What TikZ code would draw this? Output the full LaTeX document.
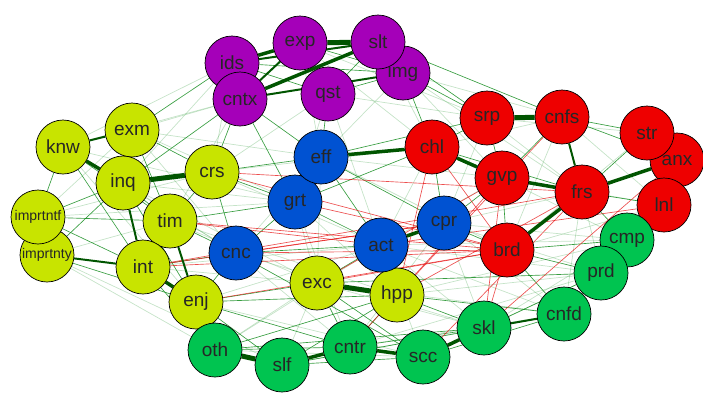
\documentclass[tikz,border=0pt]{standalone}
\usepackage{fontspec}
\setmainfont{Liberation Sans}
\usetikzlibrary{backgrounds}
\definecolor{purpv}{RGB}{165,0,185}
\definecolor{redv}{RGB}{238,0,0}
\definecolor{bluev}{RGB}{0,82,210}
\definecolor{yelv}{RGB}{200,228,0}
\definecolor{grnv}{RGB}{0,196,80}
\definecolor{dkgrn}{RGB}{0,85,0}
\definecolor{mdgrn}{RGB}{20,140,30}
\definecolor{negred}{RGB}{230,20,20}
\tikzset{
  vtx/.style={circle,draw=black,line width=0.7pt,minimum size=54pt,inner sep=0pt,
    font=\fontsize{19}{19}\selectfont,text=black!85},
  smalltxt/.style={font=\fontsize{14}{14}\selectfont},
  cue/.style={vtx,fill=purpv},
  emo/.style={vtx,fill=redv},
  eng/.style={vtx,fill=bluev},
  mot/.style={vtx,fill=yelv},
  soc/.style={vtx,fill=grnv},
  heavy/.style={draw=dkgrn,line width=5pt},
  strong/.style={draw=dkgrn,line width=3.5pt},
  mid/.style={draw=dkgrn,line width=2pt},
  weak/.style={draw=mdgrn,line width=0.65pt,opacity=0.85},
  faint/.style={draw=mdgrn!70,line width=0.7pt,opacity=0.35},
  neg/.style={draw=negred,line width=0.65pt,opacity=0.75},
}

\begin{document}
\begin{tikzpicture}[x=1pt,y=-1pt]
\useasboundingbox (0,0) rectangle (703,392);
% purple
\node[cue] (ids) at (232,63) {ids};
\node[cue] (cntx) at (240,99) {cntx};
\node[cue] (exp) at (300,43) {exp};
\node[cue] (qst) at (328,94) {qst};
\node[cue] (img) at (403,73) {img};
\node[cue] (slt) at (378,42) {slt};
% yellow
\node[mot] (exm) at (132,130) {exm};
\node[mot] (knw) at (63,147) {knw};
\node[mot] (inq) at (123,183) {inq};
\node[mot] (crs) at (212,172) {crs};
\node[mot,smalltxt] (imprtnty) at (47,255) {imprtnty};
\node[mot,smalltxt] (imprtntf) at (38,217) {imprtntf};
\node[mot] (tim) at (170,221) {tim};
\node[mot] (int) at (143,267) {int};
\node[mot] (enj) at (196,302) {enj};
\node[mot] (exc) at (317,283) {exc};
\node[mot] (hpp) at (397,295) {hpp};
% blue
\node[eng] (grt) at (295,202) {grt};
\node[eng] (eff) at (321,157) {eff};
\node[eng] (cnc) at (236,253) {cnc};
\node[eng] (act) at (381,245) {act};
\node[eng] (cpr) at (444,223) {cpr};
% red
\node[emo] (srp) at (487,118) {srp};
\node[emo] (cnfs) at (562,117) {cnfs};
\node[emo] (chl) at (432,147) {chl};
\node[emo] (gvp) at (502,178) {gvp};
\node[emo] (frs) at (582,192) {frs};
\node[emo] (anx) at (677,160) {anx};
\node[emo] (str) at (647,133) {str};
\node[emo] (lnl) at (664,205) {lnl};
\node[emo] (brd) at (507,250) {brd};
% green
\node[soc] (cmp) at (627,240) {cmp};
\node[soc] (prd) at (601,273) {prd};
\node[soc] (cnfd) at (564,314) {cnfd};
\node[soc] (skl) at (484,328) {skl};
\node[soc] (scc) at (423,357) {scc};
\node[soc] (cntr) at (350,347) {cntr};
\node[soc] (oth) at (215,350) {oth};
\node[soc] (slf) at (282,365) {slf};

\begin{pgfonlayer}{background}
% faint web
\foreach \a/\b in {ids/knw,ids/crs,cntx/knw,cntx/tim,exp/eff,exp/chl,qst/grt,qst/act,
  slt/chl,img/gvp,img/cnfs,img/eff,exm/eff,exm/grt,knw/cnc,knw/enj,inq/grt,inq/cnc,
  crs/act,crs/chl,tim/exc,tim/hpp,int/act,int/exc,enj/act,enj/scc,cnc/cntr,cnc/skl,
  grt/hpp,grt/cntr,eff/brd,eff/gvp,act/prd,act/cnfd,cpr/frs,cpr/skl,hpp/prd,hpp/cmp,
  exc/skl,exc/cnfd,cntr/prd,cntr/cnfd,scc/prd,slf/skl,oth/scc,oth/exc,
  brd/lnl,brd/str,gvp/cmp,gvp/lnl,chl/cnfs,srp/str,srp/frs,cnfs/lnl,cnfs/brd,
  frs/prd,frs/cnfd,skl/cmp,imprtnty/oth,imprtnty/slf,imprtntf/exm,imprtntf/crs,
  imprtnty/tim,imprtntf/grt,qst/srp,qst/crs,img/frs,exp/srp,ids/inq,cntx/exm,
  eff/cnc,eff/exc,grt/exc,cpr/cmp,cpr/prd,act/cmp,chl/act,srp/cpr,gvp/act,
  slf/exc,oth/act,scc/act,cntr/cpr,skl/act,cnfd/cpr,exm/cnc,inq/exc,knw/grt}
  \draw[faint] (\a) -- (\b);
% weak links
\foreach \a/\b in {ids/exm,ids/qst,ids/img,exp/qst,exp/img,qst/slt,qst/img,
  cntx/crs,cntx/inq,cntx/eff,qst/eff,img/srp,img/chl,slt/srp,slt/cnfs,cntx/grt,
  exm/crs,exm/tim,knw/tim,knw/int,inq/tim,crs/tim,crs/eff,crs/grt,crs/cnc,tim/cnc,
  tim/grt,int/cnc,imprtntf/inq,imprtntf/int,imprtnty/enj,imprtnty/inq,imprtntf/tim,
  imprtntf/knw,imprtntf/imprtnty,enj/exc,enj/cnc,enj/hpp,enj/cntr,enj/slf,enj/oth,
  eff/grt,eff/act,eff/cpr,grt/act,grt/cnc,cnc/act,act/hpp,act/exc,cpr/brd,cpr/gvp,
  eff/srp,grt/chl,cpr/chl,chl/srp,srp/gvp,cnfs/gvp,cnfs/str,str/anx,str/frs,
  anx/lnl,frs/lnl,gvp/brd,brd/cmp,frs/cmp,lnl/cmp,chl/frs,cmp/prd,prd/cnfd,
  oth/cntr,slf/scc,cntr/skl,scc/cnfd,skl/prd,oth/hpp,slf/hpp,cntr/hpp,exc/cntr,
  exc/scc,oth/skl,slf/cnfd,brd/cnfd,brd/prd,hpp/skl,hpp/cnfd,cnc/scc,exc/prd,
  int/oth,inq/enj,cnfs/anx}
  \draw[weak] (\a) -- (\b);
% negative links
\foreach \a/\b in {tim/act,tim/brd,int/cpr,int/brd,cnc/brd,crs/brd,crs/frs,exc/brd,
  enj/brd,hpp/frs,skl/brd,skl/gvp,scc/frs,cnfs/hpp,grt/brd,act/lnl,hpp/chl,
  cntr/gvp,chl/brd,cnc/cpr,skl/anx,exc/gvp,int/frs}
  \draw[neg] (\a) -- (\b);
% medium links
\foreach \a/\b in {skl/cnfd,exm/inq,inq/int,cntx/img,ids/slt,tim/enj,imprtnty/int,
  cnfs/frs,exp/cntx,knw/exm}
  \draw[mid] (\a) -- (\b);
% strong links
\foreach \a/\b in {chl/gvp,eff/chl,knw/inq,slf/cntr,cntr/scc,exp/ids,cntx/slt,
  gvp/frs,frs/anx,frs/brd,int/enj,act/cpr,scc/skl}
  \draw[strong] (\a) -- (\b);
\foreach \a/\b in {srp/cnfs,exc/hpp,oth/slf,inq/crs,exp/slt}
  \draw[heavy] (\a) -- (\b);
\end{pgfonlayer}
\end{tikzpicture}
\end{document}
